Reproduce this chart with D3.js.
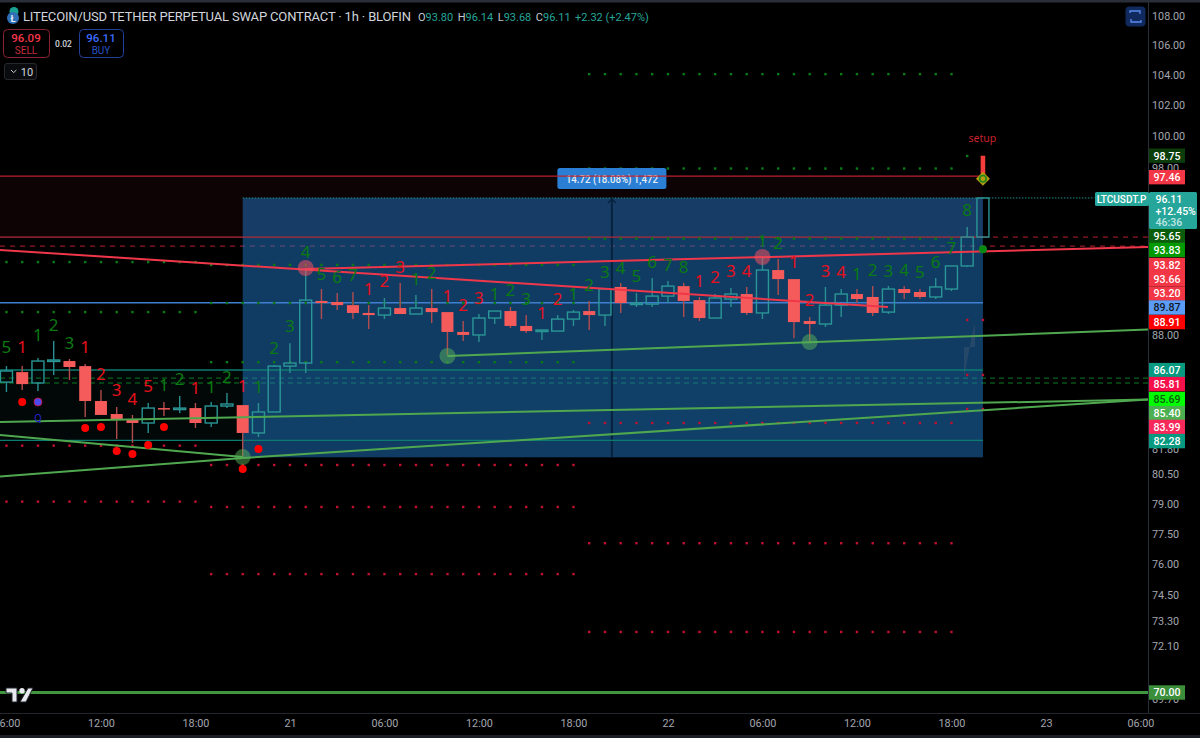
<!DOCTYPE html>
<html><head><meta charset="utf-8">
<script src="https://cdn.jsdelivr.net/npm/d3@7"></script>
<style>
html,body{margin:0;padding:0;background:#000;overflow:hidden}
svg{display:block}
text{font-family:Roboto,"Liberation Sans",sans-serif}
.axis text{font-size:10.8px;fill:#a3a6af}
.axis line{stroke:none}
.axis path{stroke:none}
</style></head><body>
<script>
// ---- data ----
const hours=d3.range(-18,45);
const open=[85.41,85.96,85.36,86.57,86.57,86.29,84.38,83.68,83.41,83.20,84.00,83.97,84.00,83.20,84.11,84.16,82.67,83.79,86.29,86.46,89.97,89.91,89.73,89.28,89.16,89.56,89.22,89.56,89.33,88.20,88.03,88.99,89.39,88.54,88.25,88.25,88.93,89.39,89.16,90.78,89.79,89.79,90.25,90.83,90.02,88.99,90.08,90.37,89.28,91.77,91.24,88.82,88.65,89.73,90.37,90.20,89.33,90.66,90.49,90.20,90.66,92.01,93.73];
const high=[86.29,86.29,86.74,87.69,86.68,86.41,84.98,84.06,83.63,84.27,84.33,84.65,84.27,84.33,84.81,84.16,84.27,86.35,87.57,91.89,90.66,90.43,90.49,89.73,90.14,91.01,90.31,90.66,89.33,88.82,89.22,89.39,89.62,89.16,88.31,89.16,89.45,89.97,90.66,91.01,90.43,91.30,91.13,91.01,90.20,90.37,90.72,90.78,92.54,92.42,91.24,89.05,90.78,90.66,90.66,90.83,90.83,90.83,90.66,91.30,92.01,94.34,96.11];
const low=[84.87,84.98,84.92,85.80,85.52,83.52,83.63,82.35,82.14,82.67,83.57,83.73,82.93,82.99,84.00,81.40,82.46,83.79,85.91,85.91,88.93,89.45,88.93,88.37,88.93,89.22,89.22,88.71,86.90,87.69,87.63,88.65,88.42,88.14,87.74,88.25,88.54,88.31,88.54,89.28,89.62,89.62,89.85,89.05,88.82,88.99,89.62,89.16,88.93,90.31,87.85,87.63,88.48,89.05,89.85,89.10,89.22,90.08,90.08,90.08,90.54,91.95,93.73];
const close=[86.02,85.30,86.57,86.63,86.24,84.38,83.63,83.36,83.20,84.00,83.97,84.00,83.20,84.11,84.22,82.67,83.79,86.29,86.46,90.02,89.85,89.73,89.28,89.16,89.56,89.22,89.56,89.33,88.20,88.03,88.99,89.39,88.54,88.25,88.31,88.93,89.33,89.16,90.66,89.85,89.85,90.25,90.83,89.97,88.99,90.14,90.37,89.28,91.77,91.24,88.76,88.65,89.73,90.37,90.08,89.28,90.66,90.43,90.20,90.78,92.01,93.73,96.11];

const seqDigits=["5","1","1","2","3","1","2","3","4","5","1","2","1","1","2","1","1","2","3","4","5","6","7","1","2","3","1","2","1","2","3","1","2","3","1","2","1","2","3","4","5","6","7","8","1","2","3","4","1","2","1","2","3","4","1","2","3","4","5","6","7","8"];
const seqSides="grggg rrrrr gg rg gr gggg ggg rrr gg rrr ggg rr gg g ggggg rrrr gg rr rr ggggggg g".replace(/ /g,"").split("");
const seqPrices=[87.35,87.35,88.03,88.59,87.57,87.35,85.85,84.98,84.49,85.19,85.25,85.58,85.09,85.14,85.69,85.19,85.14,87.30,88.54,92.84,91.54,91.36,91.48,90.66,91.13,91.95,91.24,91.59,90.25,89.73,90.14,90.37,90.60,90.08,89.28,90.08,90.37,90.89,91.65,91.89,91.42,92.24,92.07,91.95,91.13,91.36,91.71,91.71,93.49,93.37,92.24,90.02,91.71,91.65,91.54,91.77,91.71,91.77,91.65,92.24,93.07,95.37];

const redDotHours=[-17,-13,-12,-11,-10,-9,-8,-3,-2];
const redDotPrices=[84.33,82.93,82.99,81.72,81.56,82.03,82.99,80.78,81.82];
const pivotHours=[1,10,30,33,-3];
const pivotPrices=[91.89,86.85,92.54,87.63,81.40];
const pivotSides=["r","g","r","g","g"];

const redRowPrices=[82.0,79.11,80.99,78.84,75.52,83.20,77.03,72.77,83.95,88.88,85.80];
const redRowFrom=[-18,-18,-5,-5,-5,19,19,19,43,43,43];
const redRowTo=[-6,-6,18,18,18,42,42,42,44,44,44];
const greenRowPrices=[92.24,89.33,92.07,89.85,86.51,104.05,97.94,93.64,98.73];
const greenRowFrom=[-18,-18,-5,-5,-5,19,19,19,43];
const greenRowTo=[-6,-6,18,18,18,42,42,42,43];

const redTrendH=[-18.41,0.95];const redTrendH2=[37.97,54.48];
const redTrendP=[92.96,91.83];const redTrendP2=[89.62,93.13];
const greenTrendH=[10,-18.41,-18.41,-18.41,-3];const greenTrendH2=[54.48,54.48,-3,-3,54.48];
const greenTrendP=[86.85,83.25,82.56,80.39,81.35];const greenTrendP2=[88.34,84.46,81.40,81.35,84.46];

const priceTicks=[108,106,104,102,100,98,88,81.8,80.5,79,77.5,76,74.5,73.3,72.1,69.7];
const timeTicks=[-18,-12,-6,0,6,12,18,24,30,36,42,48,54];
const timeLabels=["06:00","12:00","18:00","21","06:00","12:00","18:00","22","06:00","12:00","18:00","23","06:00"];

const tagTexts=["98.75","97.46","95.65","93.83","93.82","93.66","93.20","89.87","88.91","86.07","85.81","85.69","85.40","83.99","82.28","70.00"];
const tagSlots=[98.75,97.40,93.79,92.96,92.07,91.24,90.40,89.59,88.76,86.07,85.30,84.49,83.73,82.99,82.24,70.00];
const tagFills=["#0b3d0b","#f23645","#0b5d0b","#009a00","#f23645","#f23645","#f23645","#5b9cf6","#ff0000","#089981","#f7104a","#00ff00","#4caf50","#f7295b","#089981","#3b8f3b"];
const tagInks=["#fff","#fff","#fff","#fff","#fff","#fff","#fff","#131722","#fff","#fff","#fff","#0b5d0b","#fff","#fff","#fff","#fff"];

const boxTop=96.11,boxBottom=81.39,boxFrom=-3,boxTo=44,boxMid=20.44;
const bandRed=[97.46,93.73],bandTeal=[86.07,82.28];
const lastPrice=96.11;

// ---- scales ----
const W=1200,H=738,axisX=1148,axisY=713;
const x=d3.scaleLinear().domain([-18.41,54.48]).range([0,axisX]);
const y=d3.scaleLog().domain([108,70]).range([16,692.5]);
const svg=d3.select("body").append("svg").attr("width",W).attr("height",H);
svg.append("rect").attr("width",W).attr("height",H).attr("fill","#000");

function hband(p0,p1,h0,h1,fill){svg.append("rect").attr("x",x(h0)).attr("width",x(h1)-x(h0)).attr("y",y(p0)).attr("height",y(p1)-y(p0)).attr("fill",fill);}
function hline(p,h0,h1,col,w,dash){const l=svg.append("line").attr("x1",x(h0)).attr("x2",x(h1)).attr("y1",y(p)).attr("y2",y(p)).attr("stroke",col).attr("stroke-width",w);if(dash)l.attr("stroke-dasharray",dash);return l;}

const L=x.domain()[0],R=x.domain()[1];
hband(bandRed[0],bandRed[1],L,boxTo,"#0e0304");
hband(bandTeal[0],bandTeal[1],L,boxTo,"#010807");

// dashed levels under the box
hline(93.73,boxTo,R,"#b5202f",1,"5 5");
hline(93.19,L,R,"#b5202f",1,"5 5");
hline(85.63,L,R,"#0d7a22",1,"5 4");
hline(85.36,L,R,"#0d7a22",1,"5 4");

// position box
svg.append("rect").attr("x",x(boxFrom)).attr("width",x(boxTo)-x(boxFrom)).attr("y",y(boxTop)).attr("height",y(boxBottom)-y(boxTop)).attr("fill","#2078c8").attr("fill-opacity",.5);
hline(lastPrice,boxTo,R-3.4,"#1c8f8a",1,"1.5 1.5");
hline(lastPrice,boxFrom,boxTo,"#1c8f8a",1,"1.5 1.5");
svg.append("line").attr("x1",x(boxMid)).attr("x2",x(boxMid)).attr("y1",y(boxTop)).attr("y2",y(boxBottom)).attr("stroke","#06223e").attr("stroke-width",2);
svg.append("path").attr("d",`M${x(boxMid)-4},${y(boxTop)+5}L${x(boxMid)},${y(boxTop)+1}L${x(boxMid)+4},${y(boxTop)+5}`).attr("fill","none").attr("stroke","#06223e").attr("stroke-width",1.2);

// solid levels
hline(93.73,L,boxTo,"#b02a3a",1.3);
hline(89.87,L,boxTo,"#3f7fd0",1.5);
hline(86.07,L,boxTo,"#0b7d70",1.5);
hline(82.28,L,boxTo,"#0b7d70",1.2);
hline(70,L,R,"#3f963f",3);

// dotted rows
function rows(ps,from,to,col){ps.forEach((p,i)=>{svg.append("g").selectAll("rect").data(d3.range(from[i],to[i]+1)).join("rect").attr("x",d=>x(d)-1.2).attr("y",y(p)-1.2).attr("width",2.4).attr("height",2.4).attr("fill",col);});}
rows(redRowPrices,redRowFrom,redRowTo,"#c01030");
rows(greenRowPrices,greenRowFrom,greenRowTo,"#0a7a14");

// measure label
const mx=x(boxMid);
svg.append("rect").attr("x",mx-54.5).attr("y",168).attr("width",109).attr("height",21).attr("rx",2.5).attr("fill","#2a7fd4");
svg.append("text").attr("x",mx-46).attr("y",182.5).attr("textLength",92).attr("lengthAdjust","spacingAndGlyphs").attr("font-size",11).attr("fill","#e8eef6").attr("font-weight",500).text("14.72 (18.08%) 1,472");
hline(97.46,L,boxTo,"#b8222f",1.3);

// candles
const bodyW=12;
const candles=hours.map((h,i)=>({h,o:open[i],hi:high[i],lo:low[i],c:close[i],up:close[i]>=open[i]}));
const UP="#2a9696",DN="#f55b5b";
const cg=svg.append("g");
cg.selectAll("path.w").data(candles).join("path").attr("class","w").attr("d",d=>{
 const t=Math.max(d.o,d.c),b=Math.min(d.o,d.c),X=x(d.h);
 return `M${X},${y(d.hi)}V${y(t)}M${X},${y(b)}V${y(d.lo)}`;
}).attr("stroke",d=>d.up?"#2a8f90":"#b04c4e").attr("stroke-width",1.4).attr("fill","none");
cg.selectAll("rect").data(candles).join("rect")
 .attr("x",d=>x(d.h)-bodyW/2).attr("width",bodyW)
 .attr("y",d=>y(Math.max(d.o,d.c)))
 .attr("height",d=>Math.max(1.5,y(Math.min(d.o,d.c))-y(Math.max(d.o,d.c))))
 .attr("fill",d=>d.up?"none":DN)
 .attr("stroke",d=>d.up?UP:DN).attr("stroke-width",d=>d.up?1.4:0);

// trend lines
const tr=(h1,p1,h2,p2,c,w)=>svg.append("line").attr("x1",x(h1)).attr("y1",y(p1)).attr("x2",x(h2)).attr("y2",y(p2)).attr("stroke",c).attr("stroke-width",w);
redTrendH.forEach((h,i)=>tr(h,redTrendP[i],redTrendH2[i],redTrendP2[i],"#f0374a",2));
greenTrendH.forEach((h,i)=>tr(h,greenTrendP[i],greenTrendH2[i],greenTrendP2[i],"#4fa84f",2));

// pivots & dots
svg.append("g").selectAll("circle").data(pivotHours).join("circle").attr("cx",d=>x(d)).attr("cy",(d,i)=>y(pivotPrices[i])).attr("r",8)
 .attr("fill",(d,i)=>pivotSides[i]=="r"?"#f05060":"#58b058").attr("fill-opacity",(d,i)=>pivotSides[i]=="r"?.55:.5);
svg.append("g").selectAll("circle").data(redDotHours).join("circle").attr("cx",d=>x(d)).attr("cy",(d,i)=>y(redDotPrices[i])).attr("r",4).attr("fill","#ff0000");
svg.append("circle").attr("cx",x(-16)).attr("cy",y(84.33)).attr("r",4).attr("fill","#4a4af0").attr("stroke","#e01030").attr("stroke-width",.8);
svg.append("text").attr("x",x(-16)).attr("y",y(83.52)+5).attr("text-anchor","middle").attr("font-size",11).attr("fill","#2222cc").text("Q");

// sequence digits
svg.append("g").selectAll("text").data(seqDigits).join("text")
 .attr("x",(d,i)=>x(hours[i])).attr("y",(d,i)=>y(seqPrices[i])+6)
 .attr("text-anchor","middle").attr("font-size",17).style("font-family","'Noto Sans'")
 .attr("fill",(d,i)=>seqSides[i]=="r"?"#e8101c":"#0b7a12").text(d=>d);

// setup marker
const sx=x(44);
svg.append("text").attr("x",sx-.5).attr("y",142).attr("text-anchor","middle").attr("font-size",10.5).style("font-family","'Noto Sans'").attr("fill","#c8202c").text("setup");
svg.append("rect").attr("x",sx-2.3).attr("y",y(98.75)).attr("width",4.6).attr("height",y(97.4)-y(98.75)).attr("fill","#f73c3c");
svg.append("path").attr("d",`M${sx},${y(97.3)-7}L${sx+7},${y(97.3)}L${sx},${y(97.3)+7}L${sx-7},${y(97.3)}Z`).attr("fill","#b59a10");
svg.append("circle").attr("cx",sx).attr("cy",y(97.3)).attr("r",3.2).attr("fill","none").attr("stroke","#1b8a1b").attr("stroke-width",1.6);
svg.append("circle").attr("cx",sx).attr("cy",y(93.0)).attr("r",4).attr("fill","#0a8a14");
svg.append("path").attr("d",`M${x(42.8)},${y(85.7)}L${x(43.3)},${y(88.0)}L${x(43.5)},${y(88.7)}L${x(43.5)},${y(87.35)}L${x(42.8)},${y(87.35)}Z`).attr("fill","#777").attr("fill-opacity",.22);

// axes
svg.append("rect").attr("x",axisX+1).attr("y",0).attr("width",W-axisX-1).attr("height",axisY).attr("fill","#000");
svg.append("rect").attr("x",0).attr("y",axisY+.5).attr("width",W).attr("height",H-axisY).attr("fill","#000");
const ya=svg.append("g").attr("class","axis").attr("transform",`translate(${axisX},0)`).call(d3.axisRight(y).tickValues(priceTicks).tickSize(0).tickPadding(4).tickFormat(d3.format(".2f")));
const xa=svg.append("g").attr("class","axis").attr("transform",`translate(0,${axisY})`).call(d3.axisBottom(x).tickValues(timeTicks).tickSize(0).tickPadding(6).tickFormat((d,i)=>timeLabels[i]));
svg.append("line").attr("x1",axisX+.5).attr("x2",axisX+.5).attr("y1",0).attr("y2",axisY).attr("stroke","#2a2e39");
svg.append("line").attr("x1",0).attr("x2",W).attr("y1",axisY+.5).attr("y2",axisY+.5).attr("stroke","#23262f");

// price tags
const tagG=svg.append("g").selectAll("g").data(tagTexts).join("g").attr("transform",(d,i)=>`translate(${axisX+1},${y(tagSlots[i])})`);
tagG.append("rect").attr("x",0).attr("y",-7.2).attr("width",36).attr("height",14.4).attr("fill",(d,i)=>tagFills[i]);
tagG.append("text").attr("x",18).attr("y",3.8).attr("text-anchor","middle").attr("font-size",10.6).attr("font-weight",500).attr("fill",(d,i)=>tagInks[i]).text(d=>d);

// last price box
svg.append("rect").attr("x",1095).attr("y",192).attr("width",54).attr("height",14).attr("rx",1.5).attr("fill","#26a69a");
svg.append("text").attr("x",1121.5).attr("y",203).attr("text-anchor","middle").attr("font-size",10).attr("font-weight",500).attr("fill","#fff").text("LTCUSDT.P");
svg.append("rect").attr("x",1149).attr("y",192).attr("width",48).attr("height",37).attr("rx",1.5).attr("fill","#26a69a");
[["96.11",203,"#fff"],["+12.45%",215,"#fff"],["46:36",226,"#bfe6e2"]].forEach(([t,yy,c])=>svg.append("text").attr("x",1155.5).attr("y",yy).attr("font-size",10.5).attr("font-weight",500).attr("fill",c).text(t));

// chrome: top & bottom strips
svg.append("rect").attr("width",W).attr("height",2.5).attr("fill","#2a2e39");
svg.append("rect").attr("y",735).attr("width",W).attr("height",3).attr("fill","#1b1e27");

// legend
svg.append("text").attr("x",23).attr("y",21).attr("font-size",13).attr("textLength",388).attr("fill","#d1d4dc").text("LITECOIN/USD TETHER PERPETUAL SWAP CONTRACT · 1h · BLOFIN");
const LG=[["O","93.80"],["H","96.14"],["L","93.68"],["C","96.11"]];
const val=svg.append("text").attr("x",418).attr("y",21).attr("font-size",11);
LG.forEach(([a,b],i)=>{val.append("tspan").attr("fill","#c5c8d0").attr("dx",i?4.5:0).text(a);val.append("tspan").attr("fill","#26a69a").text(b);});
val.append("tspan").attr("fill","#26a69a").attr("dx",4.5).text("+2.32 (+2.47%)");
// symbol icons
svg.append("circle").attr("cx",14).attr("cy",11.5).attr("r",4.5).attr("fill","#1aa090");
svg.append("circle").attr("cx",13).attr("cy",18).attr("r",6).attr("fill","#2f6fb5");
svg.append("text").attr("x",13).attr("y",21.5).attr("text-anchor","middle").attr("font-size",9).attr("font-weight",700).attr("fill","#e6f0fa").text("Ł");

// order buttons
function btn(xx,w,border,c1,c2,a,b){
 svg.append("rect").attr("x",xx+.5).attr("y",29.5).attr("width",w).attr("height",28).attr("rx",4).attr("fill","#000").attr("stroke",border).attr("stroke-width",1);
 svg.append("text").attr("x",xx+w/2).attr("y",42).attr("text-anchor","middle").attr("font-size",11.5).attr("font-weight",500).attr("fill",c1).text(a);
 svg.append("text").attr("x",xx+w/2).attr("y",54).attr("text-anchor","middle").attr("font-size",10).attr("fill",c2).text(b);
}
btn(3,46,"#8a2230","#f7354b","#c92b3c","96.09","SELL");
btn(79,44,"#23409c","#3d6bff","#2a52c8","96.11","BUY");
svg.append("text").attr("x",63.5).attr("y",47).attr("text-anchor","middle").attr("font-size",8.5).attr("font-weight",500).attr("fill","#cfd2d9").text("0.02");
svg.append("rect").attr("x",4.5).attr("y",63.5).attr("width",32).attr("height",16).attr("rx",2.5).attr("fill","#0a0b0e").attr("stroke","#26282e");
svg.append("path").attr("d","M11,70l2.7,2.6l2.7,-2.6").attr("fill","none").attr("stroke","#c7cad1").attr("stroke-width",1);
svg.append("text").attr("x",27).attr("y",76).attr("text-anchor","middle").attr("font-size",11).attr("fill","#d1d4dc").text("10");

// top-right button
svg.append("rect").attr("x",1125.5).attr("y",6.5).attr("width",20).attr("height",20).attr("rx",4).attr("fill","#102a5e");
svg.append("path").attr("d","M1130,13v-2h10v3M1141,20v2h-10v-3").attr("fill","none").attr("stroke","#5b8cf0").attr("stroke-width",1.3);

// logo
const logo=svg.append("g").attr("transform","translate(6,688)");
logo.append("path").attr("d","M0,0H11V14H6V5H0Z M22,0H27L20,14H14Z").attr("fill","#e8e9ee").attr("stroke","#20232c").attr("stroke-width",1);
logo.append("circle").attr("cx",16).attr("cy",2.7).attr("r",2.7).attr("fill","#e8e9ee");
</script>
</body></html>
